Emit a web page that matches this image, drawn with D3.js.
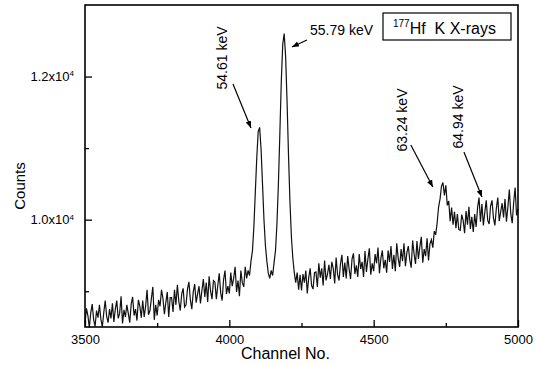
<!DOCTYPE html>
<html>
<head>
<meta charset="utf-8">
<script src="https://cdn.jsdelivr.net/npm/d3@7"></script>
<style>
  html, body { margin: 0; padding: 0; background: #fff; }
  svg { display: block; font-family: "Liberation Sans", Arial, sans-serif; }
</style>
</head>
<body>
<div id="chart"></div>
<script>
// spectrum: channel 3500..5000, every 5th channel
const channelStart = 3500;
const channelStep = 5;
const counts = [
  8550, 8760, 8660, 8490, 8700, 8820, 8600, 8510, 8730, 8630,
  8810, 8610, 8500, 8700, 8870, 8650, 8560, 8750, 8620, 8830,
  8570, 8750, 8870, 8620, 8690, 8930, 8550, 8740, 8640, 8810,
  8690, 8560, 8820, 8920, 8660, 8750, 8590, 8880, 8790, 8630,
  8870, 8640, 8790, 9020, 8670, 8730, 8900, 9060, 8600, 8810,
  8660, 8880, 8790, 9020, 8900, 8680, 8840, 8990, 8640, 8910,
  8910, 8710, 9020, 8810, 9090, 8860, 8730, 8960, 9040, 8780,
  8810, 9030, 9130, 8880, 8750, 8990, 9100, 8840, 8960, 9070,
  8830, 9010, 9170, 8920, 9120, 8850, 9210, 9000, 8890, 9150,
  9130, 8890, 9080, 9250, 8980, 8870, 9160, 9290, 8960, 9070,
  8970, 9260, 9070, 9180, 9340, 8990, 9150, 8930, 9290, 9120,
  9060, 9340, 9180, 9290, 9220, 9420, 9560, 9900, 10380, 10860,
  11230, 11290, 10980, 10490, 10000, 9640, 9420, 9250, 9180, 9290,
  9220, 9400, 9570, 9950, 10500, 11200, 11930, 12450, 12600, 12280,
  11650, 10900, 10250, 9760, 9460, 9260, 9120, 9260, 9020, 9230,
  9010, 9240, 9120, 9290, 8970, 9190, 9320, 9080, 9030, 9260,
  9270, 9060, 9390, 9190, 9320, 9080, 9430, 9150, 9240, 9370,
  9170, 9410, 9320, 9110, 9470, 9230, 9150, 9380, 9510, 9200,
  9400, 9180, 9490, 9310, 9170, 9450, 9530, 9240, 9360, 9200,
  9520, 9310, 9410, 9200, 9560, 9270, 9450, 9600, 9230, 9390,
  9280, 9520, 9390, 9610, 9250, 9460, 9570, 9320, 9440, 9260,
  9570, 9410, 9630, 9310, 9510, 9280, 9670, 9460, 9340, 9590,
  9420, 9670, 9350, 9540, 9630, 9440, 9330, 9710, 9520, 9380,
  9700, 9450, 9620, 9760, 9400, 9590, 9490, 9740, 9430, 9660,
  9720, 9610, 9840, 9790, 9960, 10180, 10290, 10470, 10520, 10340,
  10480, 10200, 10260, 9980, 10170, 9930, 10110, 9880, 10080, 9860,
  9850, 10070, 9990, 9810, 10120, 9930, 10180, 9870, 10040, 9830,
  10080, 9900, 10170, 10310, 9970, 10220, 9920, 10100, 10270, 9990,
  9940, 10190, 10270, 10020, 9920, 10160, 10310, 9980, 10110, 10230,
  10030, 10290, 9970, 10180, 10420, 10080, 9950, 10240, 10450, 10060,
  10150
];

const xTicks = [3500, 4000, 4500, 5000];
const xMinorTicks = [3750, 4250, 4750];
const yTicks = [10000, 12000];
const yTickMantissa = ["1.0", "1.2"];
const yMinorTicks = [9000, 11000];

// peak labels: arrow tip in data units
const peakLabels = ["54.61 keV", "55.79 keV", "63.24 keV", "64.94 keV"];
const peakChannels = [4075, 4217, 4705, 4875];
const peakCounts = [11281, 12413, 10456, 10317];

const width = 535, height = 365;
const margin = { top: 5, right: 17, bottom: 38, left: 85 };
const innerW = width - margin.left - margin.right;
const innerH = height - margin.top - margin.bottom;

const data = counts.map((c, i) => ({ ch: channelStart + i * channelStep, c: c }));

const x = d3.scaleLinear().domain([3500, 5000]).range([0, innerW]);
const y = d3.scaleLinear().domain([8500, 13000]).range([innerH, 0]);

const svg = d3.select('#chart').append('svg')
  .attr('width', width)
  .attr('height', height);

const g = svg.append('g').attr('transform', `translate(${margin.left},${margin.top})`);

g.append('defs').append('marker')
  .attr('id', 'head')
  .attr('viewBox', '0 0 10 10')
  .attr('refX', 10).attr('refY', 5)
  .attr('markerWidth', 7).attr('markerHeight', 7)
  .attr('markerUnits', 'userSpaceOnUse')
  .attr('orient', 'auto')
  .append('path').attr('d', 'M0,1 L10,5 L0,9 Z').attr('fill', '#000');

// spectrum
g.append('path')
  .datum(data)
  .attr('fill', 'none')
  .attr('stroke', '#111')
  .attr('stroke-width', 1.2)
  .attr('d', d3.line().x(d => x(d.ch)).y(d => y(d.c)));

// axes
g.append('g')
  .attr('transform', `translate(0,${innerH})`)
  .call(d3.axisBottom(x).tickValues(xTicks).tickSize(-7).tickPadding(8).tickFormat(d3.format('d')));
g.append('g')
  .attr('transform', `translate(0,${innerH})`)
  .call(d3.axisBottom(x).tickValues(xMinorTicks).tickSize(-4).tickFormat(''));

const yAxis = g.append('g')
  .call(d3.axisLeft(y).tickValues(yTicks).tickSize(-7).tickPadding(11).tickFormat(''));
g.append('g')
  .call(d3.axisLeft(y).tickValues(yMinorTicks).tickSize(-4).tickFormat(''));

yAxis.selectAll('.tick text').each(function (d, i) {
  const t = d3.select(this).text(null);
  t.append('tspan').text(yTickMantissa[i] + 'x10');
  t.append('tspan').attr('font-size', 8).attr('dy', '-0.6em').text('4');
});

g.selectAll('.domain').remove();
g.selectAll('.tick line').attr('stroke', '#000').attr('stroke-width', 1.3);
g.selectAll('.tick text').attr('font-size', 13).attr('fill', '#000')
  .attr('font-family', '"Liberation Sans", Arial, sans-serif');

g.append('rect')
  .attr('width', innerW).attr('height', innerH)
  .attr('fill', 'none').attr('stroke', '#000').attr('stroke-width', 1.6);

// axis titles
svg.append('text')
  .attr('x', margin.left + innerW / 2 - 16)
  .attr('y', 359)
  .attr('text-anchor', 'middle')
  .attr('font-size', 16)
  .text('Channel No.');

svg.append('text')
  .attr('transform', `translate(25,${margin.top + 181}) rotate(-90)`)
  .attr('text-anchor', 'middle')
  .attr('font-size', 15)
  .text('Counts');

// legend box
const box = g.append('g').attr('transform', `translate(${innerW - 135},8)`);
box.append('rect').attr('width', 128).attr('height', 27)
  .attr('fill', '#fff').attr('stroke', '#000').attr('stroke-width', 1.2);
const bt = box.append('text').attr('x', 10).attr('y', 21).attr('font-size', 16);
bt.append('tspan').attr('font-size', 10).attr('dy', -7).text('177');
bt.append('tspan').attr('dy', 7).text('Hf\u00a0\u00a0K X-rays');

// peak annotations: arrow tail and label offsets in px from the tip
const tails = [[-18, -44], [15, -7], [-22, -42], [-18, -45]];
const labelPos = [[-24, -70], [18, -12], [-26, -67], [-19, -80]];
const rotated = [true, false, true, true];

peakLabels.forEach((label, i) => {
  const tx = x(peakChannels[i]), ty = y(peakCounts[i]);
  g.append('line')
    .attr('x1', tx + tails[i][0]).attr('y1', ty + tails[i][1])
    .attr('x2', tx).attr('y2', ty)
    .attr('stroke', '#000').attr('stroke-width', 1.2)
    .attr('marker-end', 'url(#head)');
  const lx = tx + labelPos[i][0], ly = ty + labelPos[i][1];
  const t = g.append('text').attr('font-size', 14).text(label);
  if (rotated[i]) {
    t.attr('text-anchor', 'middle')
      .attr('transform', `translate(${lx},${ly}) rotate(-90)`);
  } else {
    t.attr('x', lx).attr('y', ly);
  }
});
</script>
</body>
</html>
